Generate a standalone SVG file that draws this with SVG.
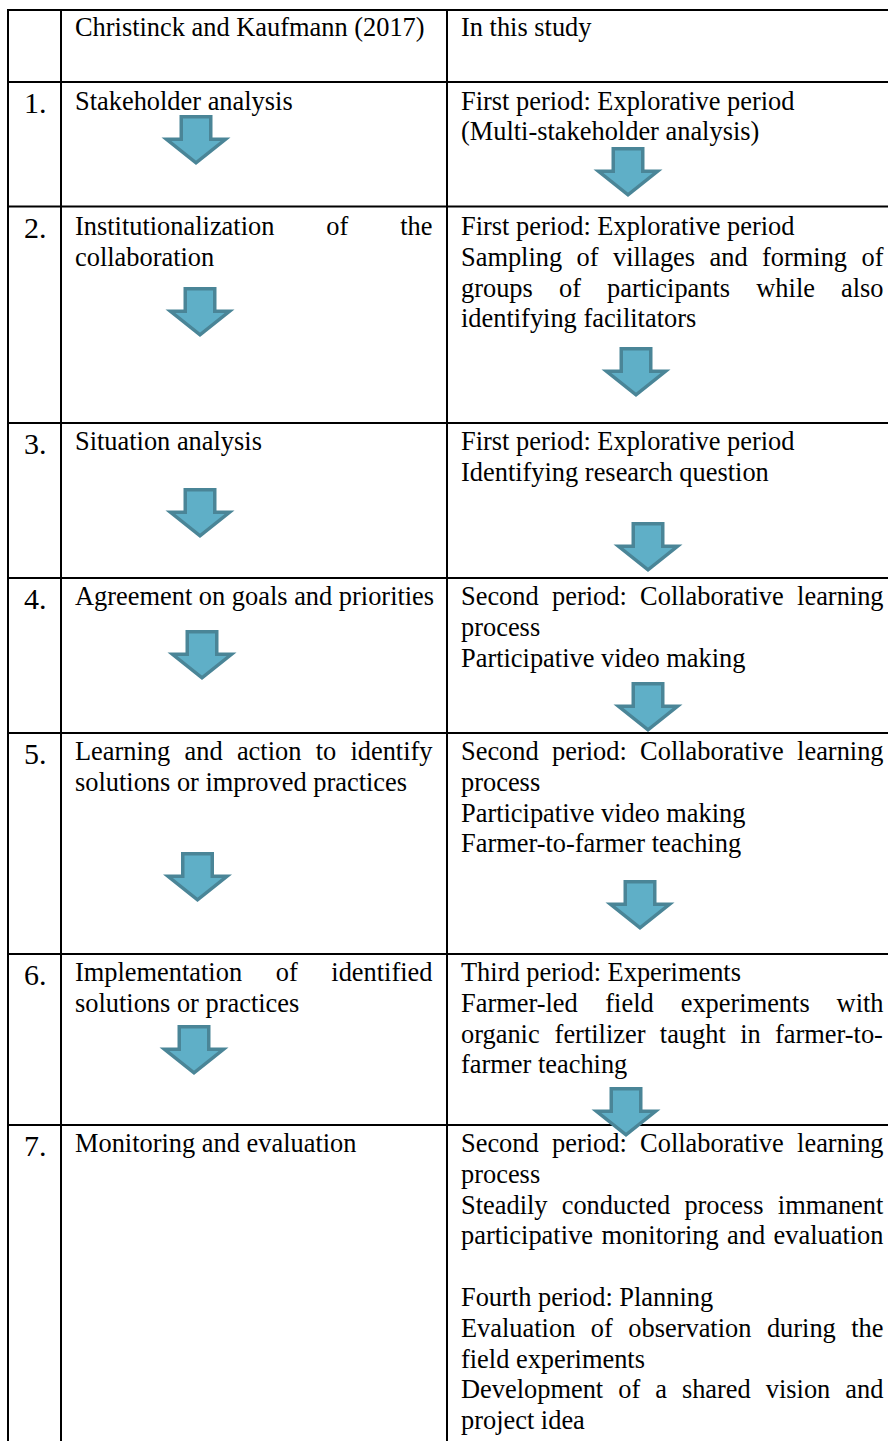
<svg xmlns="http://www.w3.org/2000/svg" xmlns:xlink="http://www.w3.org/1999/xlink" width="888" height="1441" viewBox="0 0 888 1441">
  <style>
    .t { font-family: "Liberation Serif", "Times New Roman", serif; font-size: 26.4px; fill: #000; }
    .num { font-family: "Liberation Serif", "Times New Roman", serif; font-size: 30px; fill: #000; }
    .grid line { stroke: #000; stroke-width: 2; }
    .arr { fill: #5fafc7; stroke: #4a8597; stroke-width: 3.5; stroke-linejoin: miter; }
  </style>
  <defs>
    <!-- block arrow pointing down; origin = top centre of the shape -->
    <path id="down" d="M-14.75,1.75 H14.75 V24.25 H29.5 L0,47.8 L-29.5,24.25 H-14.75 Z"/>
  </defs>
  <rect width="888" height="1441" fill="#fff"/>

  <!-- table grid -->
  <g id="grid" class="grid">
    <line x1="8" y1="9" x2="8" y2="1441"/>
    <line x1="61" y1="9" x2="61" y2="1441"/>
    <line x1="447" y1="9" x2="447" y2="1441"/>
    <line x1="7" y1="10" x2="888" y2="10"/>
    <line x1="7" y1="82" x2="888" y2="82"/>
    <line x1="7" y1="206.5" x2="888" y2="206.5"/>
    <line x1="7" y1="423" x2="888" y2="423"/>
    <line x1="7" y1="578" x2="888" y2="578"/>
    <line x1="7" y1="733" x2="888" y2="733"/>
    <line x1="7" y1="954" x2="888" y2="954"/>
    <line x1="7" y1="1125" x2="888" y2="1125"/>
  </g>

  <g id="header">
    <text class="t" x="75" y="36">Christinck and Kaufmann (2017)</text>
    <text class="t" x="461" y="36">In this study</text>
  </g>

  <g id="step1">
    <text class="num" x="24" y="113">1.</text>
    <text class="t" x="75" y="109.5">Stakeholder analysis</text>
    <text class="t" x="461" y="109.5">First period: Explorative period</text>
    <text class="t" x="461" y="140.3">(Multi-stakeholder analysis)</text>
  </g>

  <g id="step2">
    <text class="num" x="24" y="238">2.</text>
    <text class="t" y="235"><tspan x="75">Institutionalization</tspan><tspan x="326.3">of</tspan><tspan x="400.2">the</tspan></text>
    <text class="t" x="75" y="265.8">collaboration</text>
    <text class="t" x="461" y="235">First period: Explorative period</text>
    <text class="t" y="265.8"><tspan x="461">Sampling</tspan><tspan x="576.6">of</tspan><tspan x="613">villages</tspan><tspan x="709.5">and</tspan><tspan x="762">forming</tspan><tspan x="861.5">of</tspan></text>
    <text class="t" y="296.6"><tspan x="461">groups</tspan><tspan x="559">of</tspan><tspan x="607">participants</tspan><tspan x="756.3">while</tspan><tspan x="841">also</tspan></text>
    <text class="t" x="461" y="327.4">identifying facilitators</text>
  </g>

  <g id="step3">
    <text class="num" x="24" y="453.5">3.</text>
    <text class="t" x="75" y="450">Situation analysis</text>
    <text class="t" x="461" y="450">First period: Explorative period</text>
    <text class="t" x="461" y="480.8">Identifying research question</text>
  </g>

  <g id="step4">
    <text class="num" x="24" y="608.5">4.</text>
    <text class="t" x="75" y="605">Agreement on goals and priorities</text>
    <text class="t" y="605"><tspan x="461">Second</tspan><tspan x="552">period:</tspan><tspan x="640.1">Collaborative</tspan><tspan x="797.1">learning</tspan></text>
    <text class="t" x="461" y="635.8">process</text>
    <text class="t" x="461" y="666.6">Participative video making</text>
  </g>

  <g id="step5">
    <text class="num" x="24" y="763.5">5.</text>
    <text class="t" y="760"><tspan x="75">Learning</tspan><tspan x="184.6">and</tspan><tspan x="236.9">action</tspan><tspan x="315.7">to</tspan><tspan x="350.4">identify</tspan></text>
    <text class="t" x="75" y="790.8">solutions or improved practices</text>
    <text class="t" y="760"><tspan x="461">Second</tspan><tspan x="552">period:</tspan><tspan x="640.1">Collaborative</tspan><tspan x="797.1">learning</tspan></text>
    <text class="t" x="461" y="790.8">process</text>
    <text class="t" x="461" y="821.6">Participative video making</text>
    <text class="t" x="461" y="852.4">Farmer-to-farmer teaching</text>
  </g>

  <g id="step6">
    <text class="num" x="24" y="984.5">6.</text>
    <text class="t" y="981"><tspan x="75">Implementation</tspan><tspan x="275.8">of</tspan><tspan x="331.3">identified</tspan></text>
    <text class="t" x="75" y="1011.8">solutions or practices</text>
    <text class="t" x="461" y="981">Third period: Experiments</text>
    <text class="t" y="1011.8"><tspan x="461">Farmer-led</tspan><tspan x="605.3">field</tspan><tspan x="680.7">experiments</tspan><tspan x="836.6">with</tspan></text>
    <text class="t" y="1042.6"><tspan x="461">organic</tspan><tspan x="554.6">fertilizer</tspan><tspan x="659.8">taught</tspan><tspan x="740.2">in</tspan><tspan x="775">farmer-to-</tspan></text>
    <text class="t" x="461" y="1073.4">farmer teaching</text>
  </g>

  <g id="step7">
    <text class="num" x="24" y="1155.5">7.</text>
    <text class="t" x="75" y="1152">Monitoring and evaluation</text>
    <text class="t" y="1152"><tspan x="461">Second</tspan><tspan x="552">period:</tspan><tspan x="640.1">Collaborative</tspan><tspan x="797.1">learning</tspan></text>
    <text class="t" x="461" y="1182.8">process</text>
    <text class="t" y="1213.6"><tspan x="461">Steadily</tspan><tspan x="561.7">conducted</tspan><tspan x="684.4">process</tspan><tspan x="777.8">immanent</tspan></text>
    <text class="t" y="1244.4"><tspan x="461">participative</tspan><tspan x="601.4">monitoring</tspan><tspan x="727.1">and</tspan><tspan x="773.6">evaluation</tspan></text>
    <text class="t" x="461" y="1306">Fourth period: Planning</text>
    <text class="t" y="1336.8"><tspan x="461">Evaluation</tspan><tspan x="590.8">of</tspan><tspan x="628.3">observation</tspan><tspan x="766.9">during</tspan><tspan x="851.2">the</tspan></text>
    <text class="t" x="461" y="1367.6">field experiments</text>
    <text class="t" y="1398.4"><tspan x="461">Development</tspan><tspan x="618.2">of</tspan><tspan x="655.2">a</tspan><tspan x="681.9">shared</tspan><tspan x="765.8">vision</tspan><tspan x="845.3">and</tspan></text>
    <text class="t" x="461" y="1429.2">project idea</text>
  </g>

  <!-- down arrows linking the steps -->
  <g id="connectors" class="arr">
    <use xlink:href="#down" href="#down" transform="translate(196,115)"/>
    <use xlink:href="#down" href="#down" transform="translate(628,147)"/>
    <use xlink:href="#down" href="#down" transform="translate(200,287)"/>
    <use xlink:href="#down" href="#down" transform="translate(636,347)"/>
    <use xlink:href="#down" href="#down" transform="translate(200,488)"/>
    <use xlink:href="#down" href="#down" transform="translate(648,522)"/>
    <use xlink:href="#down" href="#down" transform="translate(202,630)"/>
    <use xlink:href="#down" href="#down" transform="translate(648,682)"/>
    <use xlink:href="#down" href="#down" transform="translate(197.5,852)"/>
    <use xlink:href="#down" href="#down" transform="translate(640,880)"/>
    <use xlink:href="#down" href="#down" transform="translate(194,1025)"/>
    <use xlink:href="#down" href="#down" transform="translate(626,1087)"/>
  </g>
</svg>
